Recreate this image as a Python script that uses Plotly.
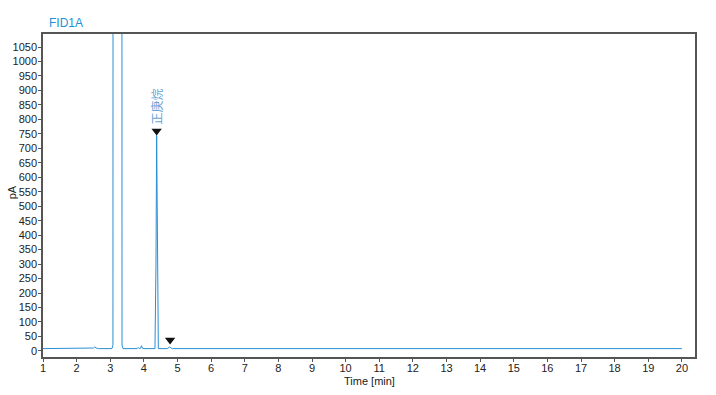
import plotly.graph_objects as go

# Chromatogram trace (time in min, signal in pA)
time_min = [1.0, 2.45, 2.50, 2.54, 2.58, 2.65, 3.05, 3.08, 3.09, 3.34, 3.35, 3.38,
            3.80, 3.83, 3.86, 3.90, 3.93, 3.96, 4.00, 4.33, 4.36, 4.38, 4.40, 4.43,
            4.70, 4.74, 4.77, 4.80, 4.85, 20.0]
signal_pa = [8, 8, 10, 14, 10, 8, 8, 20, 5000, 5000, 20, 8,
             8, 12, 8, 9, 18, 9, 8, 8, 300, 745, 300, 8,
             8, 10, 14, 10, 8, 8]

# Peak markers
peak_times = [4.38, 4.78]
peak_marks = [760, 38]
peak_labels = ["正庚烷", ""]

x_ticks = list(range(1, 21))
y_ticks = list(range(0, 1051, 50))

line_color = "#2a8fd4"
axis_color = "#555555"

fig = go.Figure()
fig.add_trace(go.Scatter(x=time_min, y=signal_pa, mode="lines",
                         line=dict(color=line_color, width=1),
                         hoverinfo="skip", showlegend=False))
fig.add_trace(go.Scatter(x=peak_times, y=peak_marks, mode="markers",
                         marker=dict(symbol="triangle-down", size=9, color="#111111"),
                         showlegend=False, hoverinfo="skip"))

for t, v, lab in zip(peak_times, peak_marks, peak_labels):
    if lab:
        fig.add_annotation(x=t, y=v, text=lab, showarrow=False, textangle=-90,
                           yshift=24, xshift=0,
                           font=dict(family="Noto Sans CJK SC", size=12, color="#6aa3d6"))

fig.update_layout(
    width=716, height=395,
    margin=dict(l=43, r=21, t=34, b=38),
    plot_bgcolor="white", paper_bgcolor="white",
    font=dict(family="Liberation Sans, Arial", size=11, color="#222222"),
)
fig.add_annotation(xref="paper", yref="paper", x=0.0, y=1.0, xanchor="left", yanchor="bottom",
                   xshift=4, yshift=2, text="FID1A", showarrow=False,
                   font=dict(family="Liberation Sans, Arial", size=12, color="#1f8fd6"))
# Axis titles
fig.add_annotation(xref="paper", yref="paper", x=0.5, y=0.0, xanchor="center", yanchor="middle",
                   yshift=-24, text="Time [min]", showarrow=False,
                   font=dict(family="Liberation Sans, Arial", size=11, color="#222222"))
fig.add_annotation(xref="paper", yref="paper", x=0.0, y=0.51, xanchor="center", yanchor="middle",
                   xshift=-31, text="pA", textangle=-90, showarrow=False,
                   font=dict(family="Liberation Sans, Arial", size=11, color="#222222"))

fig.update_xaxes(range=[1, 20.39], tickvals=x_ticks, ticks="outside", ticklen=3,
                 tickcolor=axis_color, showline=True, linecolor=axis_color, linewidth=1.5,
                 mirror=True, showgrid=False, zeroline=False, automargin=False,
                 ticklabelstandoff=-3)
fig.update_yaxes(range=[-21, 1095], tickvals=y_ticks, ticks="outside", ticklen=3,
                 tickcolor=axis_color, showline=True, linecolor=axis_color, linewidth=1.5,
                 mirror=True, showgrid=False, zeroline=False, automargin=False,
                 ticklabelstandoff=-1)

fig.write_html("out.html")
